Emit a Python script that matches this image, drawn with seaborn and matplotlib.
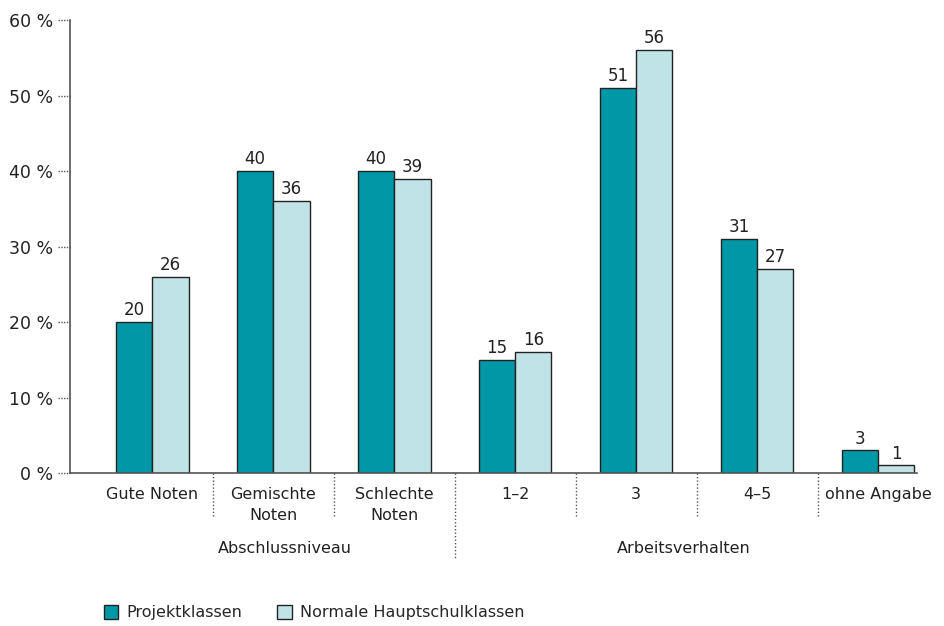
#!/usr/bin/env python3
# Grouped bar chart: Projektklassen vs. normale Hauptschulklassen

import numpy as np
import pandas as pd
import seaborn as sns
import matplotlib.pyplot as plt

sns.set_style("white")
plt.rcParams['font.family'] = ['DejaVu Sans']

categories = ["Gute Noten", "Gemischte\nNoten", "Schlechte\nNoten",
              "1\u20132", "3", "4\u20135", "ohne Angabe"]
projekt = [20, 40, 40, 15, 51, 31, 3]
normal = [26, 36, 39, 16, 56, 27, 1]
series = ["Projektklassen", "Normale Hauptschulklassen"]
groups = ["Abschlussniveau", "Arbeitsverhalten"]
yticks = [0, 10, 20, 30, 40, 50, 60]

COLORS = ["#0097a7", "#bfe3e6"]
GREY = "#555555"


def plot(outpath="out.png"):
    df = pd.DataFrame({
        "cat": categories * 2,
        "val": projekt + normal,
        "series": [series[0]] * len(categories) + [series[1]] * len(categories),
    })

    fig = plt.figure(figsize=(9.44, 6.26), dpi=100)
    ax = fig.add_axes([0.0742, 0.2444, 0.897, 0.7236])

    sns.barplot(x="cat", y="val", hue="series", data=df, ax=ax,
                palette=COLORS, width=0.6, edgecolor="#222222", linewidth=1,
                saturation=1, legend=True)

    for c in ax.containers:
        ax.bar_label(c, fmt="%d", padding=2, fontsize=12, color="#222222")

    ax.set_xlim(-0.68, 6.32)
    ax.set_ylim(0, 60)
    ax.set_yticks(yticks)
    ax.set_yticklabels([f"{t} %" for t in yticks], fontsize=12.5, color="#222222")
    ax.tick_params(axis="y", length=0, pad=12)
    ax.tick_params(axis="x", length=0, pad=10, labelsize=11.5, labelcolor="#222222")
    for tl in ax.get_xticklabels():
        tl.set_linespacing(1.55)
    ax.set_xlabel("")
    ax.set_ylabel("")

    for s in ("top", "right"):
        ax.spines[s].set_visible(False)
    for s in ("left", "bottom"):
        ax.spines[s].set_color(GREY)
        ax.spines[s].set_linewidth(1.2)

    # dotted y tick marks
    yt = ax.get_yaxis_transform()
    for t in yticks:
        ax.plot([-0.014, 0], [t, t], transform=yt, clip_on=False,
                color=GREY, lw=1, ls=(0, (1, 1)))

    # dotted separators between categories
    xt = ax.get_xaxis_transform()
    for x in [0.5, 1.5, 2.5, 3.5, 4.5, 5.5]:
        low = -0.19 if x == 2.5 else -0.1
        ax.plot([x, x], [0, low], transform=xt, clip_on=False,
                color=GREY, lw=1, ls=(0, (1, 1.5)))

    ax.text(1.1, -0.167, groups[0], transform=xt, ha="center", va="center",
            fontsize=11.5, color="#222222")
    ax.text(4.39, -0.167, groups[1], transform=xt, ha="center", va="center",
            fontsize=11.5, color="#222222")

    handles, labels = ax.get_legend_handles_labels()
    ax.get_legend().remove()
    fig.legend(handles, labels, loc="lower left", bbox_to_anchor=(0.095, -0.014),
               ncol=2, frameon=False, fontsize=11.5, handlelength=0.9,
               handleheight=0.9, handletextpad=0.5, columnspacing=2.2)

    fig.savefig(outpath, dpi=100)


if __name__ == "__main__":
    plot()
